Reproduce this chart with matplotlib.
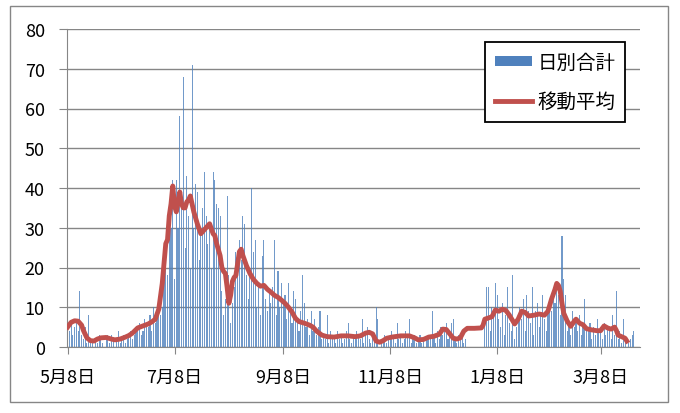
import numpy as np
import pandas as pd
import matplotlib
matplotlib.use('Agg')
import matplotlib.pyplot as plt
from matplotlib.patches import Rectangle

plt.rcParams['font.family'] = ['Noto Sans CJK JP', 'DejaVu Sans']

start = pd.Timestamp('2020-05-08')

# daily totals, one list per month (May 8 .. Mar 27)
may = [2, 4, 6, 3, 5, 7, 4, 14, 3, 2, 5, 1, 8, 2, 1, 0, 2, 1, 3, 2, 1, 0, 2, 3]
jun = [1, 3, 2, 0, 2, 4, 1, 2, 3, 1, 2, 3, 4, 2, 3, 5, 4, 6, 3, 4, 7, 6,
       5, 8, 4, 10, 6, 9, 11, 8]
jul = [10, 22, 27, 18, 35, 30, 42, 17, 42, 30, 58, 35, 68, 25, 43, 33, 20, 71,
       30, 41, 39, 22, 28, 35, 44, 33, 26, 30, 20, 44, 42]
aug = [36, 35, 33, 14, 8, 12, 38, 18, 6, 11, 15, 24, 20, 27, 22, 33, 31, 18,
       12, 20, 40, 24, 27, 10, 15, 8, 23, 27, 12, 9, 14]
sep = [11, 15, 27, 8, 19, 10, 16, 12, 13, 7, 16, 10, 6, 14, 12, 6, 4, 9, 18,
       11, 5, 7, 3, 9, 4, 7, 3, 5, 9, 2]
oct_ = [3, 2, 8, 1, 4, 2, 3, 1, 4, 2, 3, 1, 2, 4, 6, 2, 1, 3, 2, 4, 3, 2, 7,
        1, 4, 5, 2, 1, 3, 2, 10]
nov = [7, 0, 1, 2, 3, 1, 2, 3, 4, 2, 1, 6, 2, 3, 1, 2, 4, 3, 7, 1, 2, 3, 1,
       2, 3, 1, 2, 0, 2, 3]
dec = [2, 9, 3, 1, 4, 2, 5, 3, 4, 6, 2, 3, 6, 7, 2, 1, 3, 2, 4, 1, 2, 0, 0,
       0, 0, 0, 0, 0, 0, 0, 0]
jan = [6, 15, 15, 4, 10, 9, 16, 13, 7, 5, 11, 3, 8, 15, 6, 4, 18, 2, 5, 8,
       10, 7, 12, 4, 13, 9, 6, 15, 3, 9, 11]
feb = [5, 8, 13, 7, 4, 10, 12, 9, 14, 11, 16, 13, 8, 28, 17, 13, 4, 6, 3, 9,
       5, 7, 4, 8, 3, 6, 12, 5]
mar = [4, 6, 2, 5, 3, 7, 4, 5, 2, 6, 3, 5, 4, 2, 8, 3, 14, 2, 4, 1, 7, 1, 0,
       1, 2, 3, 4]
daily = may + jun + jul + aug + sep + oct_ + nov + dec + jan + feb + mar
dates = pd.date_range(start, periods=len(daily), freq='D')

# moving average (days after May 8, value)
ma_day = [0, 2, 4, 6, 8, 9, 11, 13, 15, 17, 19, 22, 25, 27, 30, 33, 35, 37, 40,
          43, 46, 48, 50, 52, 53, 54, 55, 56, 57, 58, 59, 60, 61, 62, 63, 64,
          65, 66, 67, 68, 69, 70, 72, 74, 76, 78, 80, 81, 83, 84, 85, 87, 88,
          89, 90, 91, 92, 93, 94, 95, 96, 97, 98, 99, 100, 102, 104, 106, 108,
          110, 112, 114, 116, 118, 120, 122, 124, 126, 128, 130, 132, 135, 138,
          140, 142, 145, 148, 152, 156, 160, 164, 167, 170, 172, 174, 176, 178,
          180, 182, 185, 190, 195, 198, 200, 203, 206, 209, 212, 214, 216, 218,
          220, 222, 224, 226, 228, 232, 236, 237, 238, 240, 242, 244, 246, 248,
          250, 252, 254, 255, 257, 259, 261, 263, 266, 269, 272, 274, 276, 278,
          279, 280, 281, 282, 283, 285, 287, 289, 290, 292, 294, 296, 299, 302,
          304, 306, 308, 310, 312, 313, 314, 316, 318, 319]
ma_val = [5, 6.2, 6.6, 6.5, 5.5, 4.2, 2.3, 1.6, 1.5, 2, 2.3, 2.4, 2.0, 1.8, 2.0,
          2.5, 2.9, 3.5, 4.8, 5.3, 5.8, 6.3, 7.0, 9.5, 12.8, 16, 21, 26, 27, 33,
          36, 40.5, 35.5, 34, 36.5, 39, 36, 35, 35, 36.5, 37, 38, 34, 31, 28.5,
          29.5, 30.5, 31, 28.5, 28, 26, 23, 20, 19, 18.5, 15, 11, 13, 16.5, 17.5,
          18, 21, 24, 24.6, 23, 20.5, 18.5, 17, 16, 15.3, 15.5, 14.5, 13.8, 13,
          12.5, 11.8, 11, 10, 8.8, 7.2, 6.4, 6, 5.5, 5, 4, 3, 2.6, 2.5, 2.8, 2.8,
          2.6, 2.8, 3.5, 3.7, 3.3, 1.5, 1.2, 1.6, 2.2, 2.5, 2.8, 2.8, 2.3, 1.8,
          1.9, 2.5, 2.7, 3.2, 4.5, 4.4, 3.3, 2.2, 2, 2.3, 4, 4.7, 4.7, 4.8, 5.5,
          7, 7.3, 7.6, 9.3, 9, 9.5, 9.2, 8, 6.5, 5.8, 7, 9, 8.7, 7.8, 8, 8.3, 8,
          9, 12, 14.5, 16, 15.5, 14, 11, 8.5, 6.5, 5.2, 6.5, 7, 6, 5.6, 4.6, 4.3,
          4.1, 4.1, 5.3, 4.8, 4.5, 5, 4.2, 3, 2.6, 2.2, 1.5]
ma_dates = start + pd.to_timedelta(ma_day, unit='D')

tick_dates = ['2020-05-08', '2020-07-08', '2020-09-08', '2020-11-08',
              '2021-01-08', '2021-03-08']
tick_labels = ['5月8日', '7月8日', '9月8日', '11月8日', '1月8日', '3月8日']

grey = '#868686'
fig = plt.figure(figsize=(6.8, 4.14), dpi=100)
fig.patches.append(Rectangle((10 / 680, 1 - 403 / 414), 658 / 680, 396 / 414,
                             transform=fig.transFigure, fill=False,
                             edgecolor=grey, linewidth=1))
ax = fig.add_axes([67 / 680, 1 - 348 / 414, 573 / 680, 318 / 414])

bars = ax.bar(dates, daily, width=0.62, color='#4F81BD', alpha=0.8,
              linewidth=0, label='日別合計', zorder=2)
line, = ax.plot(ma_dates, ma_val, color='#C0504D', linewidth=3.5,
                solid_joinstyle='round', label='移動平均', zorder=3)

ax.set_ylim(0, 80)
ax.set_yticks(range(0, 81, 10))
ax.set_xlim(start - pd.Timedelta(hours=8), start + pd.Timedelta(days=326.5))
ax.set_xticks(pd.to_datetime(tick_dates))
ax.set_xticklabels(tick_labels)
ax.grid(axis='y', color=grey, linewidth=1, zorder=0)
ax.set_axisbelow(True)
for s in ['top', 'right']:
    ax.spines[s].set_visible(False)
for s in ['left', 'bottom']:
    ax.spines[s].set_color(grey)
ax.tick_params(axis='y', length=6, color=grey, labelsize=13, pad=10)
ax.tick_params(axis='x', length=5, color=grey, labelsize=13, pad=10)

leg = fig.legend(handles=[bars, line], loc='upper left',
                 bbox_to_anchor=(485 / 680, 1 - 43 / 414),
                 bbox_transform=fig.transFigure, fontsize=14, frameon=True,
                 fancybox=False, framealpha=1, edgecolor='black',
                 handlelength=1.9, handleheight=0.45, labelspacing=0.95,
                 borderpad=0.5, handletextpad=0.3, borderaxespad=0)
leg.get_frame().set_linewidth(1.3)
leg.legend_handles[0].set_alpha(1)

fig.savefig('out.png', dpi=100)
